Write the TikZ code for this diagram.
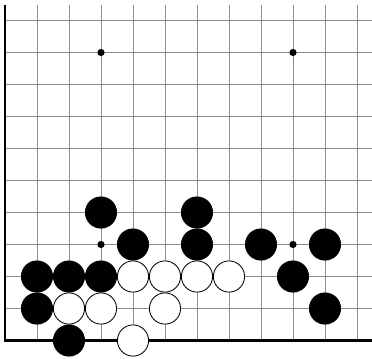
\documentclass[tikz,border=0pt]{standalone}
\usepackage{tikz}

\begin{document}
\begin{tikzpicture}[
    x=0.8cm, y=0.8cm,
    gridline/.style={draw=black!45, line width=0.7pt},
    boardedge/.style={draw=black, line width=1.5pt},
    hoshi/.style={circle, fill=black, inner sep=0pt, minimum size=0.18cm},
    blackstone/.style={circle, draw=black, line width=0.6pt, fill=black, inner sep=0pt, minimum size=0.78cm},
    whitestone/.style={circle, draw=black, line width=0.6pt, fill=white, inner sep=0pt, minimum size=0.78cm}
]
\useasboundingbox (-0.156,-0.547) rectangle (11.469,10.641);
% board
\draw[gridline, step=1] (0,0) grid (11.469,10.484);
\coordinate (corner) at (0,0);
\coordinate (topend) at (0,10.484);
\coordinate (rightend) at (11.469,0);
\draw[boardedge] (topend) -- (corner) -- (rightend);
% star points
\node[hoshi] (h1) at (3,9) {};
\node[hoshi] (h2) at (9,9) {};
\node[hoshi] (h3) at (3,3) {};
\node[hoshi] (h4) at (9,3) {};
% black stones
\node[blackstone] (b1) at (3,4) {};
\node[blackstone] (b2) at (6,4) {};
\node[blackstone] (b3) at (4,3) {};
\node[blackstone] (b4) at (6,3) {};
\node[blackstone] (b5) at (8,3) {};
\node[blackstone] (b6) at (10,3) {};
\node[blackstone] (b7) at (1,2) {};
\node[blackstone] (b8) at (2,2) {};
\node[blackstone] (b9) at (3,2) {};
\node[blackstone] (b10) at (9,2) {};
\node[blackstone] (b11) at (1,1) {};
\node[blackstone] (b12) at (10,1) {};
\node[blackstone] (b13) at (2,0) {};
% white stones
\node[whitestone] (w1) at (4,2) {};
\node[whitestone] (w2) at (5,2) {};
\node[whitestone] (w3) at (6,2) {};
\node[whitestone] (w4) at (7,2) {};
\node[whitestone] (w5) at (2,1) {};
\node[whitestone] (w6) at (3,1) {};
\node[whitestone] (w7) at (5,1) {};
\node[whitestone] (w8) at (4,0) {};
\end{tikzpicture}
\end{document}
